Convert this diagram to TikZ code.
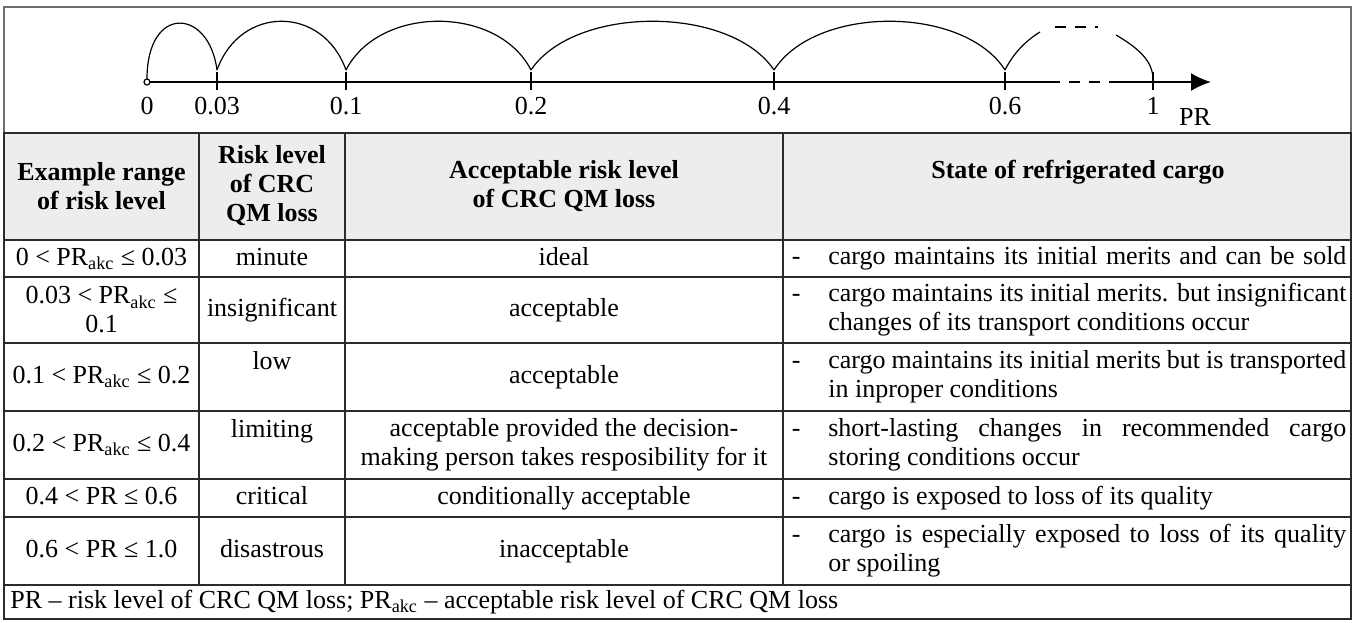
\documentclass[tikz,border=0pt]{standalone}
\usepackage{fontspec}
\setmainfont{Liberation Serif}
\usetikzlibrary{calc}
\usetikzlibrary{arrows.meta}
\usetikzlibrary{positioning}
\definecolor{HeadGray}{HTML}{EDEDED}
\definecolor{RuleBlack}{HTML}{2B2B2B}
\definecolor{FrameGray}{HTML}{6E6E6E}
\newcommand{\PRakc}{PR\textsubscript{akc}}
\tolerance=9999
\hyphenpenalty=10000
\tikzset{
  cell/.style={inner sep=0pt, align=center, font=\fontsize{13}{14.5}\selectfont},
  linecell/.style={cell, text height=9.3pt, text depth=2.8pt},
  headcell/.style={cell, font=\fontsize{13}{14.5}\selectfont\bfseries},
  statecell/.style={inner sep=0pt, anchor=west, text width=259pt, align=justify,
    font=\fontsize{13}{14.5}\selectfont},
  numlabel/.style={inner sep=0pt, font=\fontsize{13}{14.5}\selectfont},
  axisline/.style={black, line width=1pt},
  humpline/.style={black, line width=0.6pt},
  gapline/.style={black, line width=1pt, dash pattern=on 5.5pt off 4.5pt},
  rule/.style={RuleBlack, line width=0.6pt},
}

\begin{document}
\begin{tikzpicture}[x=0.5pt,y=-0.5pt]
  \useasboundingbox (0,0) rectangle (1355,622);

  % scale of PR
  \coordinate (Origin)  at (147,82);
  \coordinate (AxisGap) at (1049,82);
  \coordinate (AxisRes) at (1112,82);
  \coordinate (AxisEnd) at (1211,82);
  \draw [axisline] (Origin) -- (AxisGap);
  \draw [gapline] (AxisGap) -- (AxisRes);
  \draw [axisline, -{Latex[length=10pt,width=9pt]}] (AxisRes) -- (AxisEnd);
  \node [numlabel] (PRLabel) at (1195,117) {PR};

  \foreach \xpos/\lab [count=\i] in {147/0,217/0.03,346/0.1,531/0.2,774/0.4,1005/0.6,1153/1}
  {
    \coordinate (P\i) at (\xpos,70);
    \ifnum\i>1 \draw [axisline] (\xpos,72) -- (\xpos,90); \fi
    \node [numlabel] (L\i) at (\xpos,106) {\lab};
  }

  % humps between the marks
  \draw [humpline] (147,79) .. controls (147,4) and (209,8) .. (P2);
  \foreach \a/\b in {2/3,3/4,4/5,5/6}
    \draw [humpline] (P\a) .. controls ($(P\a)!0.18!(P\b)+(0,-65)$) and ($(P\b)!0.18!(P\a)+(0,-65)$) .. (P\b);
  \draw [humpline] (P6) .. controls (1014,52) and (1027,40) .. (1040,32);
  \draw [humpline, dash pattern=on 5.5pt off 4.5pt] (1055,27) -- (1098,27);
  \draw [humpline] (1116,35) .. controls (1138,48) and (1152,60) .. (1153,78);
  \filldraw [humpline, fill=white] (Origin) circle (3);

  % table
  \fill [HeadGray] (4,133) rectangle (1351,240);
  \foreach \ypos in {240,277,343,411,479,517,585}
    \draw [rule] (4,\ypos) -- (1351,\ypos);
  \foreach \xpos in {199,345,783}
    \draw [rule] (\xpos,133) -- (\xpos,585);
  \draw [FrameGray, line width=0.8pt] (4,7) rectangle (1351,133);
  \draw [RuleBlack, line width=1pt] (4,133) rectangle (1351,619);

  % header
  \node [headcell] (HeadRange) at (101.5,186) {Example range\\of risk level};
  \node [headcell] (HeadLevel) at (272,186) {Risk level\\of CRC\\QM loss};
  \node [headcell] (HeadAccept) at (564,186) {Acceptable risk level\\of CRC QM loss};
  \node [headcell] (HeadState) at (1078,172) {State of refrigerated cargo};

  % rows
  \node [linecell] (RangeA) at (101.5,258.5) {0 < \PRakc{} ≤ 0.03};
  \node [linecell] (LevelA) at (272,258.5) {minute};
  \node [linecell] (AcceptA) at (564,258.5) {ideal};
  \node [statecell] (StateA) at (828,258.5) {\llap{-\hspace{14pt}}\makebox[\linewidth][s]{cargo maintains its initial merits and can be sold}};

  \node [cell] (RangeB) at (101.5,310) {0.03 < \PRakc{} ≤\\0.1};
  \node [linecell] (LevelB) at (272,310) {insignificant};
  \node [linecell] (AcceptB) at (564,310) {acceptable};
  \node [statecell] (StateB) at (828,310) {\llap{-\hspace{14pt}}cargo maintains its initial merits. but insignificant\linebreak changes of its transport conditions occur};

  \node [linecell] (RangeC) at (101.5,377) {0.1 < \PRakc{} ≤ 0.2};
  \node [linecell] (LevelC) at (272,362.5) {low};
  \node [linecell] (AcceptC) at (564,377) {acceptable};
  \node [statecell] (StateC) at (828,377) {\llap{-\hspace{14pt}}cargo maintains its initial merits but is transported\linebreak in inproper conditions};

  \node [linecell] (RangeD) at (101.5,445) {0.2 < \PRakc{} ≤ 0.4};
  \node [linecell] (LevelD) at (272,430.5) {limiting};
  \node [cell] (AcceptD) at (564,445) {acceptable provided the decision-\\making person takes resposibility for it};
  \node [statecell] (StateD) at (828,445) {\llap{-\hspace{14pt}}short-lasting changes in recommended cargo\linebreak storing conditions occur};

  \node [linecell] (RangeE) at (101.5,498) {0.4 < PR ≤ 0.6};
  \node [linecell] (LevelE) at (272,498) {critical};
  \node [linecell] (AcceptE) at (564,498) {conditionally acceptable};
  \node [statecell] (StateE) at (828,498) {\llap{-\hspace{14pt}}cargo is exposed to loss of its quality};

  \node [linecell] (RangeF) at (101.5,551) {0.6 < PR ≤ 1.0};
  \node [linecell] (LevelF) at (272,551) {disastrous};
  \node [linecell] (AcceptF) at (564,551) {inacceptable};
  \node [statecell] (StateF) at (828,551) {\llap{-\hspace{14pt}}cargo is especially exposed to loss of its quality\linebreak or spoiling};

  % legend
  \node [linecell, anchor=west] (Legend) at (10,602) {PR – risk level of CRC QM loss; \PRakc{} – acceptable risk level of CRC QM loss};

\end{tikzpicture}
\end{document}
